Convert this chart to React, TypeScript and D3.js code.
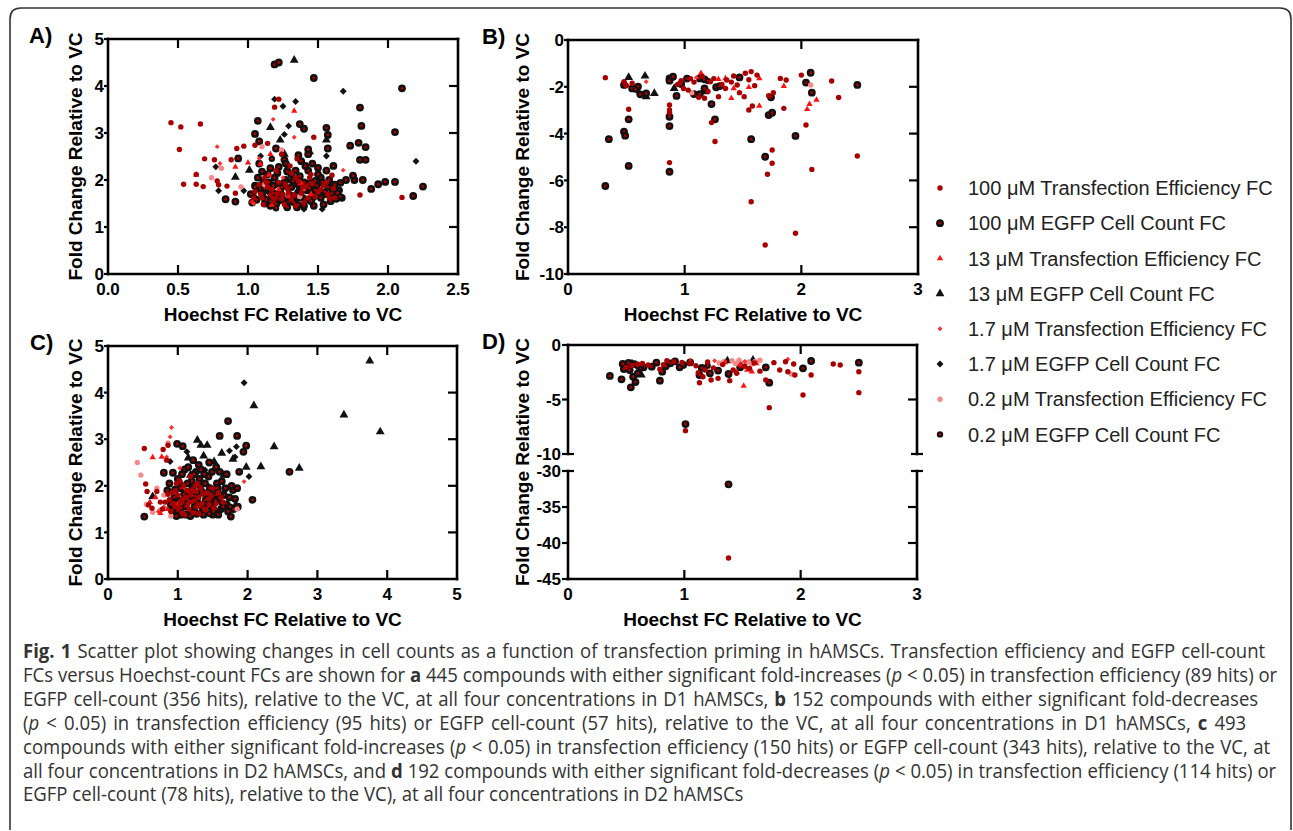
import React, { useLayoutEffect, useRef, useState } from "react";
import * as d3 from "d3";

type Pt = [number, number];

// ---------- panel A: D1, fold increases ----------
const aTe100: Pt[] = [
  [0.45, 3.22], [0.52, 3.13], [0.66, 3.19], [0.51, 2.65], [0.54, 1.91], [0.63, 1.91], [0.68, 1.86], [0.69, 2.45],
  [0.63, 2.12], [0.78, 1.98], [0.79, 1.9], [0.88, 2.43], [0.91, 1.72], [0.92, 2.67], [0.97, 2.72], [2.1, 1.63],
  [1.47, 2.91], [0.76, 2.43], [1.05, 2.74], [0.85, 1.87], [1.19, 3.55], [1.22, 3.72], [1.8, 1.68], [1.62, 1.62],
  [1.05, 1.75], [1.1, 1.62], [1.14, 1.85], [1.18, 1.55], [1.22, 1.95], [1.25, 1.7], [1.28, 1.82], [1.31, 1.58],
  [1.34, 2.05], [1.38, 1.72], [1.42, 1.88], [1.45, 2.12], [1.48, 1.65], [1.52, 1.8], [1.56, 1.95], [1.2, 2.2],
  [1.3, 2.3], [1.12, 2.05], [1.4, 1.52], [1.26, 1.48], [1.16, 1.68], [1.08, 1.9], [1.58, 1.62], [1.35, 2.45],
  [1.24, 2.55], [1.14, 2.78], [1.6, 2.1], [1.04, 1.62], [1.09, 1.7], [1.13, 1.95], [1.17, 1.8], [1.21, 1.7],
  [1.24, 1.6], [1.27, 1.9], [1.29, 1.75], [1.33, 1.68], [1.36, 1.98], [1.39, 1.85], [1.43, 1.62], [1.46, 1.92],
  [1.5, 1.75], [1.54, 1.88], [1.57, 1.7], [1.19, 1.6], [1.31, 2.15], [1.44, 2.05], [1.11, 1.48], [1.34, 1.45], [1.61, 1.82],
];
const aEgfp100: Pt[] = [
  [1.19, 4.46], [1.22, 4.5], [1.47, 4.17], [2.1, 3.95], [1.8, 3.54], [1.81, 3.15], [2.05, 3.02], [1.73, 2.73],
  [1.79, 2.79], [1.84, 2.7], [1.8, 2.43], [1.84, 2.43], [1.56, 3.11], [1.57, 2.96], [1.57, 2.67], [1.07, 3.26],
  [1.05, 2.98], [1.08, 2.82], [1.37, 3.19], [1.4, 3.09], [1.2, 2.67], [0.93, 2.46], [0.84, 1.59], [0.91, 1.54],
  [2.18, 1.66], [2.25, 1.86], [2.05, 1.96], [1.98, 1.96], [1.93, 1.91], [1.88, 1.81], [1.66, 1.94], [1.7, 2.0],
  [1.76, 2.0], [1.82, 2.0], [1.75, 2.09], [1.61, 2.3], [1.5, 2.26], [1.43, 2.55], [1.36, 2.53], [1.43, 2.65],
  [1.26, 2.43], [1.02, 1.7], [1.06, 1.58], [1.09, 1.8], [1.12, 1.5], [1.15, 1.95], [1.18, 1.72], [1.21, 1.62],
  [1.24, 1.85], [1.27, 2.0], [1.3, 1.68], [1.33, 1.52], [1.36, 1.9], [1.39, 1.62], [1.42, 1.78], [1.45, 1.55],
  [1.48, 1.98], [1.51, 1.7], [1.54, 1.48], [1.57, 1.85], [1.6, 1.72], [1.63, 1.6], [1.65, 1.78], [1.1, 2.18],
  [1.22, 2.28], [1.34, 2.2], [1.46, 2.35], [1.28, 1.42], [1.4, 1.45], [1.16, 1.45], [1.52, 2.05], [1.31, 2.12],
  [1.19, 2.05], [1.08, 2.35], [1.56, 2.2], [1.38, 2.4], [1.03, 1.52], [1.05, 1.88], [1.07, 2.05], [1.1, 1.72],
  [1.11, 1.95], [1.13, 1.58], [1.14, 2.12], [1.17, 1.62], [1.18, 1.88], [1.2, 1.48], [1.21, 2.15], [1.23, 1.75],
  [1.25, 1.58], [1.26, 1.95], [1.28, 2.18], [1.29, 1.55], [1.31, 1.85], [1.32, 1.98], [1.34, 1.65], [1.35, 1.42],
  [1.37, 2.08], [1.38, 1.78], [1.4, 1.95], [1.41, 1.58], [1.43, 2.2], [1.44, 1.82], [1.46, 1.68], [1.47, 1.45],
  [1.49, 1.88], [1.5, 2.12], [1.52, 1.62], [1.53, 1.95], [1.55, 1.7], [1.58, 2.0], [1.59, 1.55], [1.62, 1.9],
  [1.64, 1.72], [1.67, 1.62], [1.12, 1.82], [1.24, 1.68], [1.36, 1.62], [1.48, 1.78], [1.16, 2.25], [1.27, 2.35], [1.41, 2.3],
];
const aTe13: Pt[] = [
  [1.33, 3.47], [0.91, 2.28], [1.0, 2.37], [1.09, 2.34], [1.15, 2.11], [1.16, 2.55], [0.63, 2.11], [1.29, 1.65],
  [1.38, 1.93], [1.17, 1.47], [1.03, 1.55], [1.22, 1.8], [1.45, 1.7],
];
const aEgfp13: Pt[] = [
  [1.33, 4.55], [1.16, 3.12], [1.23, 2.85], [1.56, 2.85], [0.91, 2.06], [1.01, 2.21], [1.08, 2.04], [1.44, 2.6],
  [1.28, 2.25], [1.04, 1.68], [1.2, 1.9], [1.35, 1.75], [1.12, 1.62], [1.5, 1.92], [1.26, 2.55],
];
const aTe17: Pt[] = [
  [0.78, 2.71], [1.18, 3.29], [1.33, 2.91], [1.68, 2.21], [0.8, 2.35], [1.08, 2.46], [1.04, 1.5], [1.25, 2.05], [1.4, 1.8],
];
const aEgfp17: Pt[] = [
  [1.19, 3.72], [1.25, 3.57], [1.34, 3.67], [1.68, 3.89], [1.29, 3.15], [1.26, 2.97], [2.2, 2.4], [1.09, 2.51],
  [1.56, 2.51], [0.79, 1.77], [0.77, 2.28], [0.97, 1.77], [1.4, 1.38], [1.53, 1.38], [1.35, 2.04], [1.14, 1.75],
  [1.47, 1.6], [1.22, 1.52], [1.6, 1.9],
];
const aTe02: Pt[] = [[0.74, 2.05], [0.81, 2.25], [1.1, 2.71], [1.24, 2.64], [1.37, 1.65], [1.12, 1.9], [0.95, 1.85]];
const aEgfp02: Pt[] = [
  [1.61, 2.3], [1.57, 2.67], [1.17, 2.45], [1.3, 1.6], [1.44, 1.95], [1.05, 1.85], [1.55, 1.75], [1.66, 1.65], [1.2, 1.4], [1.36, 1.48],
];

// ---------- panel B: D1, fold decreases ----------
const bTe100: Pt[] = [
  [0.32, -1.61], [0.48, -1.78], [0.52, -2.96], [0.87, -2.78], [0.87, -2.99], [0.87, -5.24], [1.26, -4.34], [1.23, -3.53],
  [1.57, -6.91], [1.69, -8.76], [1.95, -8.26], [1.71, -5.74], [1.75, -5.27], [1.75, -4.7], [2.09, -5.53], [2.48, -4.96],
  [2.04, -3.63], [1.85, -2.92], [1.55, -2.99], [1.58, -2.82], [1.76, -2.25], [1.82, -1.64], [1.87, -1.71], [2.0, -1.5],
  [2.26, -1.75], [2.32, -2.46], [1.62, -1.5], [1.57, -1.35], [1.52, -1.42], [1.42, -1.54], [1.35, -2.07], [1.29, -2.42],
  [0.97, -1.74], [0.99, -2.07], [1.03, -2.14], [1.17, -2.49], [1.12, -2.45], [1.22, -1.78], [1.36, -1.71], [1.51, -2.42],
  [1.47, -2.25], [1.45, -1.92], [0.5, -1.95], [0.55, -1.85], [0.94, -1.9], [1.08, -1.8], [1.15, -1.55], [1.25, -1.65],
  [1.32, -1.9], [1.4, -1.8], [1.55, -1.7], [1.6, -1.95], [1.72, -2.38], [1.2, -2.2], [1.05, -1.65], [0.87, -3.1],
];
const bEgfp100: Pt[] = [
  [0.35, -4.24], [0.32, -6.24], [0.48, -3.92], [0.49, -4.09], [0.52, -3.39], [0.52, -5.38], [0.48, -1.92], [0.55, -2.07],
  [0.6, -1.99], [0.62, -2.32], [0.67, -2.28], [0.87, -1.64], [0.87, -1.74], [0.87, -3.28], [0.87, -3.68], [0.87, -5.63],
  [0.9, -1.57], [0.93, -2.39], [0.97, -1.88], [1.02, -1.65], [1.08, -2.31], [1.13, -2.31], [1.13, -1.64], [1.17, -1.68],
  [1.17, -2.07], [1.23, -2.74], [1.26, -3.39], [1.27, -2.02], [1.3, -1.97], [1.47, -1.6], [1.57, -4.24], [1.69, -4.99],
  [1.72, -3.21], [1.75, -3.11], [1.74, -2.45], [1.95, -4.1], [2.04, -1.82], [2.08, -1.4], [2.09, -2.25], [2.48, -1.92],
];
const bTe13: Pt[] = [
  [1.14, -1.42], [1.29, -1.68], [1.35, -1.64], [1.4, -2.49], [1.42, -2.07], [1.64, -2.82], [1.64, -1.64], [1.85, -1.97],
  [2.05, -2.96], [2.07, -2.74], [2.13, -2.56], [1.55, -2.02],
];
const bEgfp13: Pt[] = [[0.52, -1.6], [0.66, -1.54], [0.74, -2.28], [0.67, -2.42], [0.91, -2.07], [1.17, -2.21]];
const bTe17: Pt[] = [[0.67, -1.78], [1.1, -1.6]];
const bEgfp17: Pt[] = [[0.59, -2.15]];
const bTe02: Pt[] = [[1.06, -2.25], [2.08, -1.92]];
const bEgfp02: Pt[] = [[0.58, -2.12], [1.2, -1.75]];

// ---------- panel C: D2, fold increases ----------
const cTe100: Pt[] = [
  [0.52, 2.8], [0.54, 2.04], [0.56, 1.88], [0.58, 1.59], [0.63, 1.52], [0.79, 2.78], [0.86, 2.87], [0.84, 2.55],
  [0.88, 1.7], [0.92, 1.85], [0.96, 1.55], [1.0, 1.8], [1.04, 1.62], [1.08, 2.0], [1.12, 1.75], [1.16, 1.5],
  [1.2, 1.9], [1.24, 1.68], [1.28, 2.05], [1.32, 1.58], [1.36, 1.82], [1.4, 1.48], [1.44, 1.72], [1.5, 1.95],
  [1.55, 1.62], [1.06, 1.42], [1.18, 2.2], [0.98, 2.05], [1.3, 1.4], [1.14, 1.6], [1.26, 1.88], [0.7, 1.88],
  [0.75, 1.65], [1.62, 1.75], [0.9, 1.45], [0.94, 1.62], [0.97, 1.9], [1.01, 1.52], [1.03, 2.1], [1.07, 1.72],
  [1.1, 1.38], [1.13, 1.9], [1.17, 1.65], [1.19, 1.8], [1.22, 1.42], [1.25, 2.0], [1.27, 1.55], [1.3, 1.75],
  [1.33, 1.95], [1.35, 1.62], [1.38, 1.5], [1.42, 1.85], [1.45, 1.6], [1.48, 1.78], [1.52, 1.52], [1.58, 1.85],
  [1.65, 1.65], [0.82, 1.65], [0.86, 1.82], [0.78, 1.5],
];
const cEgfp100: Pt[] = [
  [1.72, 3.39], [1.6, 3.07], [1.85, 3.07], [1.98, 2.86], [1.94, 2.73], [2.6, 2.3], [2.07, 1.7], [0.52, 1.34],
  [0.99, 2.9], [1.07, 2.85], [0.93, 2.28], [0.8, 2.28], [1.79, 1.91], [1.85, 1.95], [1.76, 1.34], [1.88, 2.3],
  [1.6, 2.3], [0.9, 1.6], [0.95, 1.75], [1.0, 1.45], [1.04, 1.95], [1.08, 1.65], [1.12, 1.38], [1.16, 1.85],
  [1.2, 2.1], [1.24, 1.55], [1.28, 1.75], [1.32, 2.0], [1.36, 1.45], [1.4, 1.7], [1.44, 2.2], [1.48, 1.55],
  [1.52, 1.85], [1.56, 2.05], [1.62, 1.5], [1.66, 1.8], [1.7, 1.6], [1.1, 2.35], [1.3, 2.45], [1.45, 2.5],
  [1.22, 2.55], [1.0, 2.15], [0.85, 1.9], [1.58, 1.38], [1.18, 1.35], [1.38, 2.25], [1.5, 1.38], [1.26, 2.3],
  [0.92, 1.48], [0.96, 1.92], [1.02, 1.68], [1.05, 1.38], [1.06, 2.25], [1.09, 1.82], [1.11, 1.55], [1.14, 2.05],
  [1.17, 1.7], [1.19, 1.45], [1.21, 1.95], [1.23, 2.25], [1.25, 1.78], [1.27, 1.4], [1.29, 1.62], [1.31, 2.15],
  [1.34, 1.88], [1.35, 1.55], [1.37, 1.38], [1.39, 2.05], [1.41, 1.82], [1.43, 1.55], [1.46, 1.95], [1.47, 1.7],
  [1.49, 2.3], [1.51, 1.45], [1.54, 1.68], [1.57, 1.95], [1.6, 1.82], [1.63, 2.1], [1.65, 1.55], [1.68, 1.95],
  [1.72, 1.45], [1.74, 1.75], [1.77, 2.0], [1.8, 1.5], [1.82, 1.72], [1.86, 1.55], [0.88, 2.05], [0.98, 1.35],
  [1.15, 2.4], [1.33, 2.35], [1.55, 2.4], [1.7, 2.25],
];
const cTe13: Pt[] = [[0.64, 2.61], [0.77, 2.62], [0.75, 1.41], [0.68, 1.75], [0.85, 1.5], [1.0, 1.6], [0.6, 1.65]];
const cEgfp13: Pt[] = [
  [3.75, 4.68], [3.38, 3.52], [3.9, 3.16], [2.09, 3.72], [2.38, 2.84], [2.74, 2.38], [2.19, 2.41], [1.98, 2.4],
  [1.28, 2.98], [1.33, 2.87], [1.42, 2.87], [1.37, 2.64], [1.63, 2.7], [1.52, 2.52], [1.79, 2.57], [1.66, 2.23],
  [1.83, 1.59], [1.18, 2.23], [0.64, 1.77], [1.1, 1.55], [1.45, 1.95], [1.25, 1.42], [0.95, 1.9], [1.55, 1.45], [1.15, 2.6],
];
const cTe17: Pt[] = [[0.91, 3.25], [0.89, 3.05], [1.95, 2.09], [0.84, 2.62], [1.03, 2.38], [0.8, 1.55], [1.1, 1.95], [0.72, 1.45]];
const cEgfp17: Pt[] = [
  [1.95, 4.21], [2.02, 2.2], [1.74, 2.75], [1.84, 2.84], [1.82, 2.62], [1.13, 2.73], [0.89, 2.52], [1.39, 2.34],
  [1.05, 2.05], [1.3, 1.85], [1.6, 1.65], [0.98, 1.4],
];
const cTe02: Pt[] = [
  [0.42, 2.5], [0.47, 2.23], [0.64, 1.43], [0.75, 1.48], [0.86, 2.92], [0.55, 1.6], [0.7, 1.95], [0.8, 1.8], [1.85, 1.5], [0.9, 1.35],
];
const cEgfp02: Pt[] = [[0.95, 1.65], [1.15, 1.7], [1.35, 1.6], [1.55, 1.8], [1.25, 1.45], [1.05, 1.52], [1.45, 1.4], [1.75, 1.55]];

// ---------- panel D: D2, fold decreases (broken axis) ----------
const dTe100: Pt[] = [
  [1.01, -7.86], [1.38, -42.08], [1.73, -5.75], [2.02, -4.59], [2.5, -4.37], [2.5, -2.45], [2.09, -2.75], [2.28, -1.74],
  [2.34, -1.83], [1.94, -1.74], [1.87, -1.53], [1.82, -2.29], [1.89, -2.45], [1.95, -2.75], [1.77, -1.62], [1.7, -3.21],
  [1.39, -3.27], [1.29, -3.06], [1.23, -3.21], [1.13, -3.46], [1.16, -2.91], [0.91, -1.53], [0.85, -1.44], [0.79, -2.23],
  [0.69, -1.83], [1.05, -1.68], [1.45, -2.6], [1.56, -2.14], [0.55, -1.9], [0.6, -1.75], [0.5, -2.05], [0.64, -1.7],
  [1.1, -1.9], [1.2, -1.55], [1.25, -2.1], [1.33, -1.8], [1.42, -2.3], [1.52, -1.95], [1.6, -1.65], [1.65, -2.4],
  [1.12, -2.55], [1.18, -2.3], [0.82, -1.8], [0.98, -1.6],
];
const dEgfp100: Pt[] = [
  [0.36, -2.84], [0.46, -3.15], [0.54, -3.88], [0.79, -3.27], [1.01, -7.25], [1.38, -31.85], [1.7, -2.05], [1.73, -3.46],
  [2.02, -2.14], [2.09, -1.47], [2.5, -1.62], [1.29, -2.35], [1.38, -2.66], [1.22, -2.6], [1.13, -2.75], [0.99, -1.83],
  [0.96, -2.05], [0.88, -1.68], [0.76, -1.62], [0.72, -1.99], [0.56, -2.91], [0.6, -2.6], [0.5, -1.83], [0.47, -1.74],
  [0.65, -2.05], [0.81, -2.45], [0.53, -2.3], [0.58, -3.4], [0.62, -2.1], [0.48, -2.2], [1.05, -1.6], [0.92, -1.5],
  [1.48, -2.05], [1.15, -2.1], [0.84, -1.95], [0.52, -1.65], [0.57, -1.75],
];
const dTe13: Pt[] = [[1.51, -3.76], [1.54, -2.29], [1.58, -2.45], [1.48, -1.8], [1.62, -1.7], [1.35, -1.6], [1.05, -1.5], [1.45, -2.5]];
const dEgfp13: Pt[] = [[0.63, -2.75], [1.59, -1.38], [1.37, -1.45]];
const dTe17: Pt[] = [[1.89, -1.31], [1.26, -1.45], [1.52, -1.5]];
const dEgfp17: Pt[] = [[0.86, -1.7], [0.55, -1.6], [1.5, -1.8]];
const dTe02: Pt[] = [
  [1.34, -1.53], [1.41, -1.44], [1.47, -1.4], [1.55, -1.55], [1.61, -1.5], [1.65, -1.4], [1.92, -2.66], [1.3, -1.65],
  [1.44, -1.7], [1.52, -1.62], [1.58, -1.75],
];
const dEgfp02: Pt[] = [[0.6, -1.95], [1.2, -1.9]];

// legend / series
const seriesLabels = [
  "100 μM Transfection Efficiency FC",
  "100 μM EGFP Cell Count FC",
  "13 μM Transfection Efficiency FC",
  "13 μM EGFP Cell Count FC",
  "1.7 μM Transfection Efficiency FC",
  "1.7 μM EGFP Cell Count FC",
  "0.2 μM Transfection Efficiency FC",
  "0.2 μM EGFP Cell Count FC",
];
const seriesKeys = ["te100", "egfp100", "te13", "egfp13", "te17", "egfp17", "te02", "egfp02"];
const drawOrder = ["egfp17", "egfp13", "egfp100", "egfp02", "te02", "te17", "te13", "te100"];

const captionLines = [
  [["b", "Fig. 1"], ["n", " Scatter plot showing changes in cell counts as a function of transfection priming in hAMSCs. Transfection efficiency and EGFP cell-count"]],
  [["n", "FCs versus Hoechst-count FCs are shown for "], ["b", "a"], ["n", " 445 compounds with either significant fold-increases ("], ["i", "p"], ["n", " < 0.05) in transfection efficiency (89 hits) or"]],
  [["n", "EGFP cell-count (356 hits), relative to the VC, at all four concentrations in D1 hAMSCs, "], ["b", "b"], ["n", " 152 compounds with either significant fold-decreases"]],
  [["n", "("], ["i", "p"], ["n", " < 0.05) in transfection efficiency (95 hits) or EGFP cell-count (57 hits), relative to the VC, at all four concentrations in D1 hAMSCs, "], ["b", "c"], ["n", " 493"]],
  [["n", "compounds with either significant fold-increases ("], ["i", "p"], ["n", " < 0.05) in transfection efficiency (150 hits) or EGFP cell-count (343 hits), relative to the VC, at"]],
  [["n", "all four concentrations in D2 hAMSCs, and "], ["b", "d"], ["n", " 192 compounds with either significant fold-decreases ("], ["i", "p"], ["n", " < 0.05) in transfection efficiency (114 hits) or"]],
  [["n", "EGFP cell-count (78 hits), relative to the VC), at all four concentrations in D2 hAMSCs"]],
];
// right end of each justified caption line; the last line keeps its natural width
const captionX = 23;
const captionEnds = [1266, 1278, 1259, 1247, 1271, 1277];

const styles: Record<string, any> = {
  te100: { shape: "circle", fill: "#a80000", r: 2.7 },
  egfp100: { shape: "ring", fill: "#111", inner: "#b00000", r: 3.9 },
  te13: { shape: "triangle", fill: "#ff1010", size: 17 },
  egfp13: { shape: "triangle", fill: "#111", size: 34 },
  te17: { shape: "diamond", fill: "#ff3030", size: 12 },
  egfp17: { shape: "diamond", fill: "#111", size: 24 },
  te02: { shape: "circle", fill: "#f48a8a", r: 2.7 },
  egfp02: { shape: "ring", fill: "#111", inner: "#d00000", r: 3.2 },
};

const FONT = "'Liberation Sans', Arial, sans-serif";

function Marker({ k, x, y }: { k: string; x: number; y: number }) {
  const s = styles[k];
  if (s.shape === "circle") return <circle cx={x} cy={y} r={s.r} fill={s.fill} />;
  if (s.shape === "ring")
    return (
      <g>
        <circle cx={x} cy={y} r={s.r} fill={s.fill} />
        <circle cx={x} cy={y} r={s.r * 0.36} fill={s.inner} />
      </g>
    );
  if (s.shape === "triangle")
    return <path d={d3.symbol(d3.symbolTriangle, s.size)() || ""} transform={`translate(${x},${y})`} fill={s.fill} />;
  return <path d={d3.symbol(d3.symbolSquare, s.size)() || ""} transform={`translate(${x},${y}) rotate(45)`} fill={s.fill} />;
}

const panels = [
  {
    letter: "A)", letterX: 29, left: 108, right: 458, xDomain: [0, 2.5], xTicks: [0, 0.5, 1, 1.5, 2, 2.5], xFmt: ".1f", titleX: 82,
    segs: [{ domain: [0, 5], range: [274, 39], ticks: [0, 1, 2, 3, 4, 5] }],
    data: { te100: aTe100, egfp100: aEgfp100, te13: aTe13, egfp13: aEgfp13, te17: aTe17, egfp17: aEgfp17, te02: aTe02, egfp02: aEgfp02 },
  },
  {
    letter: "B)", letterX: 482, left: 568, right: 918, xDomain: [0, 3], xTicks: [0, 1, 2, 3], xFmt: "d", titleX: 529,
    segs: [{ domain: [-10, 0], range: [274, 40], ticks: [0, -2, -4, -6, -8, -10] }],
    data: { te100: bTe100, egfp100: bEgfp100, te13: bTe13, egfp13: bEgfp13, te17: bTe17, egfp17: bEgfp17, te02: bTe02, egfp02: bEgfp02 },
  },
  {
    letter: "C)", letterX: 30, left: 108, right: 457, xDomain: [0, 5], xTicks: [0, 1, 2, 3, 4, 5], xFmt: "d", titleX: 82,
    segs: [{ domain: [0, 5], range: [579, 346], ticks: [0, 1, 2, 3, 4, 5] }],
    data: { te100: cTe100, egfp100: cEgfp100, te13: cTe13, egfp13: cEgfp13, te17: cTe17, egfp17: cEgfp17, te02: cTe02, egfp02: cEgfp02 },
  },
  {
    letter: "D)", letterX: 482, left: 568, right: 917, xDomain: [0, 3], xTicks: [0, 1, 2, 3], xFmt: "d", titleX: 529,
    segs: [
      { domain: [-10, 0], range: [454, 345], ticks: [0, -5, -10] },
      { domain: [-45, -30], range: [579, 471], ticks: [-30, -35, -40, -45] },
    ],
    data: { te100: dTe100, egfp100: dEgfp100, te13: dTe13, egfp13: dEgfp13, te17: dTe17, egfp17: dEgfp17, te02: dTe02, egfp02: dEgfp02 },
  },
];

function Panel({ p }: { p: any }) {
  const x = d3.scaleLinear().domain(p.xDomain).range([p.left, p.right]);
  const segs = p.segs.map((s: any) => ({ ...s, scale: d3.scaleLinear().domain(s.domain).range(s.range) }));
  const broken = segs.length > 1;
  const top = segs[0].range[1];
  const bottom = segs[segs.length - 1].range[0];
  const yOf = (v: number) => {
    const seg = segs.find((s: any) => v >= s.domain[0] - 1e-9 && v <= s.domain[1] + 1e-9) || segs[0];
    return seg.scale(v);
  };
  const fmt = d3.format(p.xFmt);
  const inner = p.xTicks.slice(1, -1);
  return (
    <g>
      <text x={p.letterX} y={top + 4} fontFamily={FONT} fontWeight="bold" fontSize={22}>{p.letter}</text>
      {drawOrder.map((k) =>
        (p.data[k] as Pt[]).map((d, i) => <Marker key={k + i} k={k} x={x(d[0])} y={yOf(d[1])} />)
      )}
      <g stroke="#000" strokeWidth={2.6} fill="none" strokeLinecap="square">
        <line x1={p.left} x2={p.right} y1={top} y2={top} />
        <line x1={p.left} x2={p.right} y1={bottom} y2={bottom} />
        {segs.map((s: any, i: number) => (
          <g key={i}>
            <line x1={p.left} x2={p.left} y1={s.range[0]} y2={s.range[1]} />
            <line x1={p.right} x2={p.right} y1={s.range[0]} y2={s.range[1]} />
          </g>
        ))}
      </g>
      <g stroke="#000" strokeWidth={2.2}>
        {inner.map((t: number) => (
          <g key={t}>
            <line x1={x(t)} x2={x(t)} y1={bottom} y2={bottom - 9} />
            <line x1={x(t)} x2={x(t)} y1={top} y2={top + 9} />
          </g>
        ))}
        {segs.map((s: any, si: number) =>
          s.ticks.map((t: number) => {
            const yy = s.scale(t);
            const isEnd = t === s.domain[0] || t === s.domain[1];
            const outerEnd = yy === top || yy === bottom;
            return (
              <g key={si + "_" + t}>
                {broken ? (
                  <line x1={p.left - 6} x2={p.left + (isEnd && !outerEnd ? 6 : 0)} y1={yy} y2={yy} />
                ) : (
                  <line x1={p.left - 4} x2={p.left} y1={yy} y2={yy} />
                )}
                {!outerEnd && (isEnd && broken ? (
                  <line x1={p.right - 6} x2={p.right + 6} y1={yy} y2={yy} />
                ) : (
                  <line x1={p.right - 9} x2={p.right} y1={yy} y2={yy} />
                ))}
              </g>
            );
          })
        )}
      </g>
      <g fontFamily={FONT} fontWeight="bold" fontSize={17} fill="#000">
        {p.xTicks.map((t: number) => (
          <text key={t} x={x(t)} y={bottom + 21} textAnchor="middle">{fmt(t)}</text>
        ))}
        {segs.map((s: any, si: number) =>
          s.ticks.map((t: number) => (
            <text key={si + "_" + t} x={p.left - (broken ? 7 : 4)} y={s.scale(t)} dy="0.36em" textAnchor="end">{t}</text>
          ))
        )}
      </g>
      <g fontFamily={FONT} fontWeight="bold" fontSize={19} fill="#000">
        <text x={(p.left + p.right) / 2} y={bottom + 47} textAnchor="middle">Hoechst FC Relative to VC</text>
        <text transform={`translate(${p.titleX},${(top + bottom) / 2}) rotate(-90)`} textAnchor="middle">Fold Change Relative to VC</text>
      </g>
    </g>
  );
}

// justified caption: glyphs narrowed so the tightest line just fits, leftover width goes to word gaps
function Caption() {
  const refs = useRef<(SVGTextElement | null)[]>([]);
  const [fit, setFit] = useState<{ s: number; ws: number[] } | null>(null);
  useLayoutEffect(() => {
    const widths = refs.current.map((el) => (el ? el.getComputedTextLength() : 0));
    if (!widths.every((w) => w > 0)) return;
    const s = Math.min(...captionEnds.map((e, i) => (e - captionX) / widths[i]));
    const ws = widths.map((w, i) => {
      if (i >= captionEnds.length) return 0;
      const spaces = captionLines[i].map((seg) => seg[1]).join("").split(" ").length - 1;
      return Math.max(0, ((captionEnds[i] - captionX) / s - w) / Math.max(spaces, 1));
    });
    setFit({ s, ws });
  }, []);
  const s = fit ? fit.s : 1;
  return (
    <g fontFamily="'Open Sans', 'Noto Sans', sans-serif" fontSize={20} fill="#333">
      {captionLines.map((line, i) => (
        <text
          key={i}
          ref={(el) => { refs.current[i] = el; }}
          transform={`translate(${captionX},${658 + i * 23.9}) scale(${s},1)`}
          style={{ wordSpacing: fit ? `${fit.ws[i]}px` : undefined }}
        >
          {line.map((seg, j) => (
            <tspan key={j} fontWeight={seg[0] === "b" ? "bold" : "normal"} fontStyle={seg[0] === "i" ? "italic" : "normal"}>
              {seg[1]}
            </tspan>
          ))}
        </text>
      ))}
    </g>
  );
}

export default function App() {
  return (
    <div style={{ position: "absolute", left: 0, top: 0 }}>
      <svg width={1293} height={831} style={{ display: "block", background: "#fff" }}>
        <path
          d="M10,830 L10,19 Q10,8 21,8 L1280,8 Q1291,8 1291,19 L1291,830"
          fill="none" stroke="#333" strokeWidth={1.6}
        />
        {panels.map((p) => <Panel key={p.letter} p={p} />)}
        <g fontFamily={FONT} fontSize={20} fill="#222">
          {seriesKeys.map((k, i) => {
            const yy = 188 + i * 35.2;
            return (
              <g key={k}>
                <Marker k={k} x={940} y={yy} />
                <text x={968} y={yy} dy="0.36em">{seriesLabels[i]}</text>
              </g>
            );
          })}
        </g>
        <Caption />
      </svg>
    </div>
  );
}
